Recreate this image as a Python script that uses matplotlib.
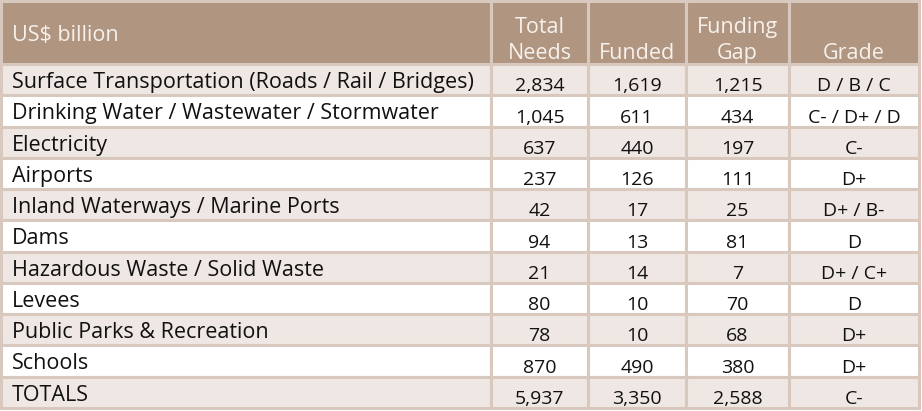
import matplotlib.pyplot as plt
from matplotlib.patches import Rectangle

plt.rcParams['font.family'] = ['Open Sans', 'DejaVu Sans']

header = ["US$ billion", "Total\nNeeds", "Funded", "Funding\nGap", "Grade"]
categories = [
    "Surface Transportation (Roads / Rail / Bridges)",
    "Drinking Water / Wastewater / Stormwater",
    "Electricity",
    "Airports",
    "Inland Waterways / Marine Ports",
    "Dams",
    "Hazardous Waste / Solid Waste",
    "Levees",
    "Public Parks & Recreation",
    "Schools",
    "TOTALS",
]
total_needs = [2834, 1045, 637, 237, 42, 94, 21, 80, 78, 870, 5937]
funded = [1619, 611, 440, 126, 17, 13, 14, 10, 10, 490, 3350]
funding_gap = [1215, 434, 197, 111, 25, 81, 7, 70, 68, 380, 2588]
grades = ["D / B / C", "C- / D+ / D", "C-", "D+", "D+ / B-", "D",
          "D+ / C+", "D", "D+", "D+", "C-"]

# layout (pixels)
col_edges = [1, 491, 588, 686, 789, 919]
head_top, head_bot = 1, 64
table_bot = 408
n = len(categories)
row_h = (table_bot - head_bot) / n

head_col = "#b09581"
alt_col = "#eee7e3"
line_col = "#d8c8bd"
txt_col = "#111111"
head_txt = "#f7f1ec"
fs = 15.5
fs_num = 14
wt = 'medium'

fig = plt.figure(figsize=(9.22, 4.11), dpi=100)
ax = fig.add_axes([0, 0, 1, 1])
ax.set_xlim(0, 922)
ax.set_ylim(411, 0)
ax.axis('off')

# header cells
for j, h in enumerate(header):
    x0, x1 = col_edges[j], col_edges[j + 1]
    ax.add_patch(Rectangle((x0, head_top), x1 - x0, head_bot - head_top,
                           facecolor=head_col, edgecolor=line_col, lw=2.2))
    if j == 0:
        ax.text(x0 + 11, 41, h, color=head_txt, fontweight=wt,
                fontsize=fs, ha='left', va='baseline')
    else:
        ax.text((x0 + x1) / 2, head_bot - 5, h, color=head_txt, fontweight=wt,
                fontsize=fs, ha='center', va='baseline', linespacing=1.33)

# body rows
for i, cat in enumerate(categories):
    y0 = head_bot + i * row_h
    face = alt_col if i % 2 == 0 else "white"
    vals = [f"{total_needs[i]:,}", f"{funded[i]:,}", f"{funding_gap[i]:,}", grades[i]]
    for j in range(len(header)):
        x0, x1 = col_edges[j], col_edges[j + 1]
        ax.add_patch(Rectangle((x0, y0), x1 - x0, row_h,
                               facecolor=face, edgecolor=line_col, lw=2.2))
    ax.text(col_edges[0] + 11, y0 + 24, cat, color=txt_col, fontweight=wt,
            fontsize=fs, ha='left', va='baseline')
    for j, v in enumerate(vals):
        x0, x1 = col_edges[j + 1], col_edges[j + 2]
        ax.text((x0 + x1) / 2, y0 + row_h - 4, v, color=txt_col, fontweight=wt,
                fontsize=fs_num, ha='center', va='baseline')

fig.savefig("out.png", dpi=100, facecolor="white")
